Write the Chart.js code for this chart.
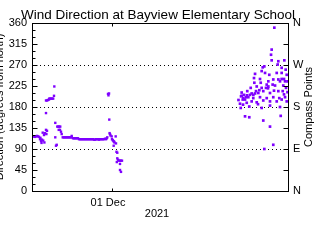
<!DOCTYPE html>
<html>
<head>
<meta charset="utf-8">
<script src="https://cdn.jsdelivr.net/npm/chart.js@4/dist/chart.umd.min.js"></script>
<style>
  html, body { margin: 0; padding: 0; background: #fff; }
  #wrap { width: 320px; height: 240px; }
</style>
</head>
<body>
<div id="wrap"><canvas id="chart" width="320" height="240"></canvas></div>
<script>
// Days are counted from 01 Dec 2021 (0 = 01 Dec)
const chartTitle = 'Wind Direction at Bayview Elementary School';
const yTitle = 'Direction (degrees from north)';
const y2Title = 'Compass Points';
const xTitle = '2021';
const xTickLabel = '01 Dec';
const compassLabels = ['N', 'E', 'S', 'W', 'N'];
const gridValues = [90, 180, 270];

// late November readings
const novDays = [
  -9.875, -9.75, -9.625, -9.5, -9.375, -9.25, -9.125, -9.0, -8.95, -8.875,
  -8.81, -8.75, -8.66, -8.6, -8.5, -8.45, -8.375, -8.25, -8.2, -8.25, -8.125,
  -8.25, -8.125, -8.0, -7.875,
  -7.84, -7.72, -7.6, -7.47, -7.35,
  -7.25, -7.21, -7.09, -7.09, -7.0, -6.91,
  -6.84, -6.72, -6.6, -6.47,
  -6.66, -6.5, -6.375, -6.29,
  -6.16, -6.04, -5.91, -5.79, -5.66, -5.54, -5.41, -5.29, -5.16, -5.04, -5.04,
  -4.875, -4.75, -4.625, -4.5, -4.375, -4.25,
  -4.125, -4.0, -3.875, -3.75, -3.625, -3.5, -3.375, -3.25, -3.125, -3.0,
  -2.875, -2.75, -2.625, -2.5, -2.375, -2.25, -2.125, -2.0, -1.875, -1.75,
  -1.625, -1.5, -1.375, -1.25, -1.125, -1.0, -0.875, -0.75,
  -0.66, -0.59, -0.5, -0.44, -0.37, -0.34, -0.3, -0.25, -0.19, -0.04,
  0.0, 0.09, 0.18, 0.25, 0.46, 0.31, 0.5, 0.21, 0.56, 0.66,
  0.66, 0.75, 0.875, 1.0, 1.125, 1.25, 0.6, 1.0, 1.0, 1.125
];
const novDirs = [
  117, 117, 116, 117, 118, 117, 116, 111, 114, 107,
  103, 110, 125, 108, 120, 104, 124, 131, 122, 167, 129,
  194, 194, 195, 196,
  198, 198, 198, 198, 198,
  204, 224, 146, 115, 97, 99,
  138, 138, 138, 138,
  131, 131, 127, 122,
  115, 115, 115, 115, 115, 115, 115, 115, 115, 115, 118,
  113, 113, 113, 113, 113, 113,
  111, 111, 111, 111, 111, 111, 111, 111, 111, 111,
  111, 111, 111, 111, 111, 110, 110, 111, 111, 111,
  110, 111, 111, 111, 111, 111, 112, 111,
  113, 115, 208, 205, 209, 153, 124, 122, 119, 117,
  111, 109, 107, 106, 117, 104, 102, 97, 84, 82,
  70, 67, 65, 65, 65, 65, 62, 58, 45, 41
];

// late December readings
const decDays = [
  20.29, 19.96, 19.88, 19.96, 20.79, 21.54, 19.04, 18.84, 20.71, 21.21,
  21.71, 18.71, 19.13, 17.88, 19.66, 20.59, 21.21, 21.84, 17.75, 18.5,
  20.16, 21.0, 19.54, 17.79, 18.59, 18.09, 19.34, 20.38, 21.41, 21.75,
  17.34, 16.91, 17.46, 17.88, 18.29, 18.91, 19.75, 20.79, 21.34, 16.21,
  16.5, 16.13, 16.34, 16.63, 17.04, 17.66, 18.5, 19.34, 20.16, 20.91,
  21.63, 16.0, 16.84, 17.46, 18.09, 18.91, 19.75, 20.59, 21.21, 21.84,
  16.09, 17.16, 18.71, 19.75, 21.0, 16.63, 17.16, 18.91, 21.09, 19.75,
  20.16, 19.04, 15.81, 16.38, 16.88, 18.25, 19.5, 20.25, 21.5, 21.94,
  21.94, 21.5, 16.21, 16.42, 16.75, 17.25, 17.67, 18.0, 18.42, 18.71,
  19.25, 19.54, 20.08, 20.79, 21.21, 21.63
];
const decDirs = [
  350, 303, 292, 280, 278, 280, 267, 265, 271, 264,
  260, 257, 253, 251, 249, 253, 253, 249, 242, 240,
  239, 235, 235, 232, 232, 224, 228, 226, 226, 221,
  221, 214, 209, 209, 210, 214, 210, 214, 214, 211,
  206, 203, 196, 196, 201, 199, 201, 199, 201, 199,
  201, 187, 189, 192, 190, 194, 192, 192, 196, 192,
  178, 181, 178, 183, 180, 160, 158, 151, 161, 138,
  99, 90, 195, 185, 205, 186, 220, 215, 240, 235,
  212, 207, 204, 199, 201, 206, 206, 214, 216, 221,
  221, 224, 228, 239, 240, 235
];

const FONT = "'Liberation Sans', Arial, sans-serif";
const POINT_COLOR = '#7f00ff';

function toPoints(days, dirs) {
  return days.map((d, i) => ({ x: d, y: dirs[i] }));
}

// frame, inward ticks, dotted lines and axis titles
const chartFrame = {
  id: 'chartFrame',
  beforeDatasetsDraw(chart) {
    const { ctx, chartArea: a, scales: { y } } = chart;
    ctx.save();
    ctx.strokeStyle = '#000';
    ctx.lineWidth = 1;
    ctx.setLineDash([1, 3]);
    gridValues.forEach(v => {
      const py = Math.round(y.getPixelForValue(v)) + 0.5;
      ctx.beginPath();
      ctx.moveTo(a.left, py);
      ctx.lineTo(a.right, py);
      ctx.stroke();
    });
    ctx.restore();
  },
  afterDraw(chart) {
    const { ctx, chartArea: a, scales: { x, y, y2 } } = chart;
    ctx.save();
    ctx.strokeStyle = '#000';
    ctx.lineWidth = 1;
    const L = Math.round(a.left) + 0.5, R = Math.round(a.right) + 0.5;
    const T = Math.round(a.top) + 0.5, B = Math.round(a.bottom) + 0.5;
    ctx.strokeRect(L, T, R - L, B - T);

    ctx.beginPath();
    for (let v = 0; v <= 360; v += 15) {
      const py = Math.round(y.getPixelForValue(v)) + 0.5;
      const len = v % 45 === 0 ? 5 : 3;
      ctx.moveTo(L, py);
      ctx.lineTo(L + len, py);
    }
    for (let v = 0; v <= 360; v += 45) {
      const py = Math.round(y2.getPixelForValue(v)) + 0.5;
      ctx.moveTo(R, py);
      ctx.lineTo(R - 5, py);
    }
    const px = Math.round(x.getPixelForValue(0)) + 0.5;
    ctx.moveTo(px, B);
    ctx.lineTo(px, B - 3);
    ctx.moveTo(px, T);
    ctx.lineTo(px, T + 3);
    ctx.stroke();

    ctx.fillStyle = '#000';
    ctx.textAlign = 'center';
    ctx.textBaseline = 'middle';
    ctx.font = '13.5px ' + FONT;
    ctx.fillText(chartTitle, (a.left + a.right) / 2 - 2, 15);

    ctx.font = '11px ' + FONT;
    ctx.fillText(xTitle, (a.left + a.right) / 2 - 3, 214);

    const midY = (a.top + a.bottom) / 2;
    ctx.save();
    ctx.translate(0, midY);
    ctx.rotate(-Math.PI / 2);
    ctx.fillText(yTitle, 0, 0);
    ctx.restore();

    ctx.save();
    ctx.translate(309, midY);
    ctx.rotate(-Math.PI / 2);
    ctx.fillText(y2Title, 0, 0);
    ctx.restore();
    ctx.restore();
  }
};

new Chart(document.getElementById('chart'), {
  type: 'scatter',
  data: {
    datasets: [
      {
        label: 'Nov',
        data: toPoints(novDays, novDirs),
        backgroundColor: POINT_COLOR,
        borderWidth: 0,
        pointStyle: 'rect',
        pointRadius: 1.7
      },
      {
        label: 'Dec',
        data: toPoints(decDays, decDirs),
        backgroundColor: POINT_COLOR,
        borderWidth: 0,
        pointStyle: 'rect',
        pointRadius: 1.9
      }
    ]
  },
  options: {
    responsive: false,
    animation: false,
    devicePixelRatio: 1,
    layout: { padding: { top: 23, left: 0, right: 0, bottom: 0 } },
    plugins: {
      legend: { display: false },
      title: { display: false },
      tooltip: { enabled: false }
    },
    scales: {
      x: {
        type: 'linear',
        min: -10,
        max: 22,
        grid: { display: false, drawTicks: false },
        border: { display: false },
        afterBuildTicks: scale => { scale.ticks = [{ value: 0 }]; },
        afterFit: scale => { scale.height = 49; },
        ticks: {
          padding: 5,
          labelOffset: -4,
          color: '#000',
          font: { family: FONT, size: 11 },
          maxRotation: 0,
          callback: () => xTickLabel
        }
      },
      y: {
        position: 'left',
        min: 0,
        max: 360,
        grid: { display: false, drawTicks: false },
        border: { display: false },
        afterFit: scale => { scale.width = 32; },
        ticks: {
          stepSize: 45,
          padding: 5,
          color: '#000',
          font: { family: FONT, size: 11 }
        }
      },
      y2: {
        position: 'right',
        min: 0,
        max: 360,
        grid: { display: false, drawTicks: false },
        border: { display: false },
        afterFit: scale => { scale.width = 32; },
        ticks: {
          stepSize: 90,
          padding: 5,
          color: '#000',
          font: { family: FONT, size: 11 },
          callback: v => compassLabels[v / 90]
        }
      }
    }
  },
  plugins: [chartFrame]
});
</script>
</body>
</html>
